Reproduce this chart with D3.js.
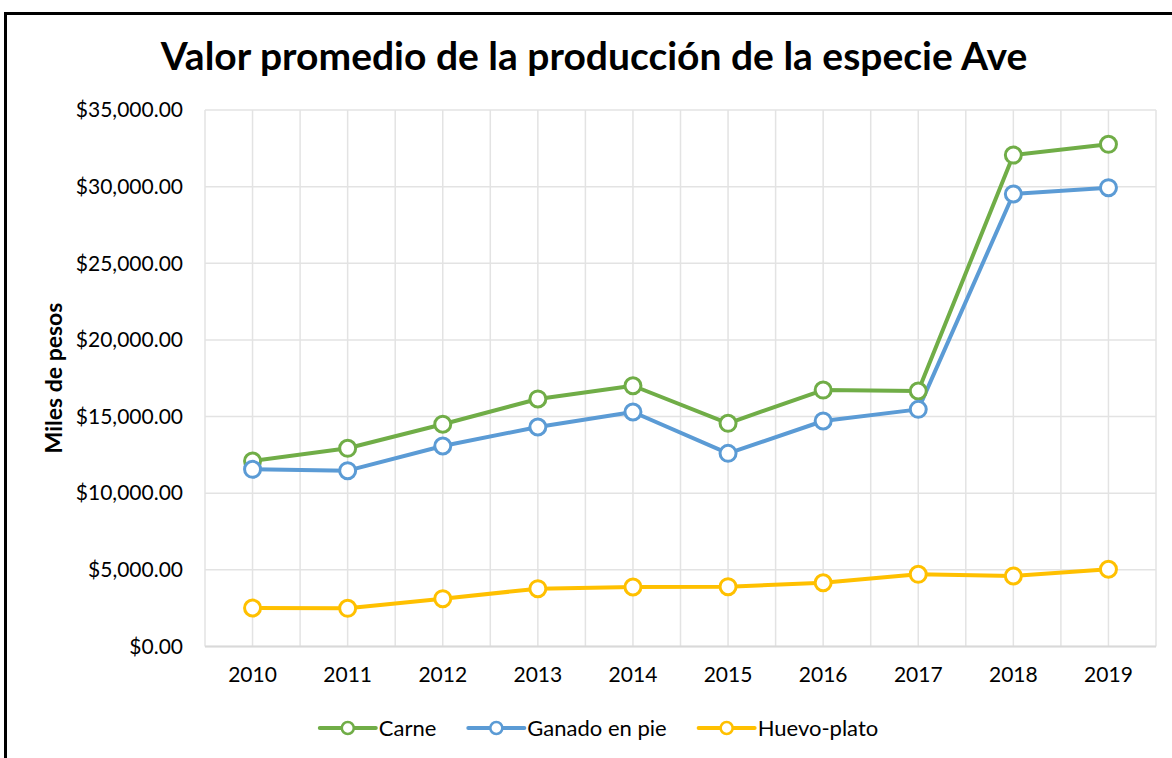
<!DOCTYPE html>
<html>
<head>
<meta charset="utf-8">
<script src="https://cdn.jsdelivr.net/npm/d3@7/dist/d3.min.js"></script>
<style>
  html, body { margin: 0; padding: 0; background: #fff; }
  svg { display: block; }
  text { font-family: Lato, "Noto Sans", sans-serif; fill: #000; }
</style>
</head>
<body>
<svg id="chart" width="1172" height="758"></svg>
<script>
// Valor promedio de la producción (miles de pesos), especie Ave
const years = ["2010", "2011", "2012", "2013", "2014", "2015", "2016", "2017", "2018", "2019"];
const carne = [12100, 12930, 14500, 16150, 17010, 14560, 16730, 16670, 32060, 32760];
const ganadoEnPie = [11560, 11470, 13080, 14320, 15300, 12600, 14710, 15470, 29520, 29930];
const huevoPlato = [2510, 2490, 3120, 3770, 3880, 3900, 4160, 4710, 4600, 5040];
const yTicks = [0, 5000, 10000, 15000, 20000, 25000, 30000, 35000];

const seriesNames = ["Carne", "Ganado en pie", "Huevo-plato"];
const seriesColors = ["#70ad47", "#5b9bd5", "#ffc000"];
const seriesValues = [carne, ganadoEnPie, huevoPlato];

const svg = d3.select("#chart");

// outer frame
svg.append("rect")
  .attr("x", 5.5).attr("y", 13.5)
  .attr("width", 1180).attr("height", 760)
  .attr("fill", "none").attr("stroke", "#000").attr("stroke-width", 3);

const plot = { left: 205, right: 1156, top: 110, bottom: 646.5 };

const x = d3.scaleBand().domain(years).range([plot.left, plot.right]);
const y = d3.scaleLinear().domain([0, 35000]).range([plot.bottom, plot.top]);
const cx = d => x(d) + x.bandwidth() / 2;

// gridlines: horizontal at value ticks, vertical at every half category
const grid = svg.append("g").attr("stroke", "#e3e3e3").attr("stroke-width", 1.5);
yTicks.forEach(t => {
  grid.append("line")
    .attr("x1", plot.left).attr("x2", plot.right)
    .attr("y1", y(t)).attr("y2", y(t));
});
years.forEach(yr => {
  [x(yr), cx(yr)].forEach(px => {
    grid.append("line")
      .attr("x1", px).attr("x2", px)
      .attr("y1", plot.top).attr("y2", plot.bottom);
  });
});
grid.append("line")
  .attr("x1", plot.right).attr("x2", plot.right)
  .attr("y1", plot.top).attr("y2", plot.bottom);
// category axis baseline
svg.append("line")
  .attr("x1", plot.left).attr("x2", plot.right)
  .attr("y1", plot.bottom).attr("y2", plot.bottom)
  .attr("stroke", "#d9d9d9").attr("stroke-width", 2);

// y axis labels
const fmt = v => "$" + d3.format(",.2f")(v);
const yAxis = d3.axisLeft(y).tickValues(yTicks).tickFormat(fmt).tickSize(0).tickPadding(0);
const yg = svg.append("g").attr("transform", `translate(${plot.left - 22},0)`).call(yAxis);
yg.select(".domain").remove();
yg.selectAll("text").attr("font-size", 21).style("font-family", "Lato, sans-serif").attr("fill", "#000");

// x axis labels
const xAxis = d3.axisBottom(x).tickSize(0).tickPadding(0);
const xg = svg.append("g").attr("transform", `translate(0,${plot.bottom + 21})`).call(xAxis);
xg.select(".domain").remove();
xg.selectAll("text").attr("font-size", 21).attr("dy", "0.71em").style("font-family", "Lato, sans-serif").attr("fill", "#000");

// lines and markers
const line = d3.line().x((d, i) => cx(years[i])).y(d => y(d));
seriesValues.forEach((vals, si) => {
  svg.append("path")
    .datum(vals)
    .attr("d", line)
    .attr("fill", "none")
    .attr("stroke", seriesColors[si])
    .attr("stroke-width", 4)
    .attr("stroke-linejoin", "round");
});
seriesValues.forEach((vals, si) => {
  svg.append("g").selectAll("circle")
    .data(vals)
    .join("circle")
    .attr("cx", (d, i) => cx(years[i]))
    .attr("cy", d => y(d))
    .attr("r", 8)
    .attr("fill", "#fff")
    .attr("stroke", seriesColors[si])
    .attr("stroke-width", 3);
});

// title
svg.append("text")
  .attr("x", 594).attr("y", 70)
  .attr("text-anchor", "middle")
  .attr("font-size", 39).attr("font-weight", "bold")
  .text("Valor promedio de la producción de la especie Ave");

// y axis title
svg.append("text")
  .attr("transform", "translate(62,378) rotate(-90)")
  .attr("text-anchor", "middle")
  .attr("font-size", 23).attr("font-weight", "bold")
  .text("Miles de pesos");

// legend: entries laid out left to right from measured text widths
const lg = svg.append("g").attr("transform", "translate(0,728)");
let cursor = 0;
const entries = [];
seriesNames.forEach((name, i) => {
  const g = lg.append("g").attr("transform", `translate(${cursor},0)`);
  g.append("line").attr("x1", 0).attr("x2", 56).attr("y1", 0).attr("y2", 0)
    .attr("stroke", seriesColors[i]).attr("stroke-width", 4).attr("stroke-linecap", "round");
  g.append("circle").attr("cx", 28).attr("cy", 0).attr("r", 6)
    .attr("fill", "#fff").attr("stroke", seriesColors[i]).attr("stroke-width", 2.5);
  const t = g.append("text").attr("x", 59).attr("y", 0).attr("dy", "0.35em")
    .attr("font-size", 22).text(name);
  const w = t.node().getComputedTextLength();
  cursor += 59 + w + 32;
  entries.push(g);
});
const totalW = cursor - 32;
lg.attr("transform", `translate(${599 - totalW / 2},728)`);
</script>
</body>
</html>
